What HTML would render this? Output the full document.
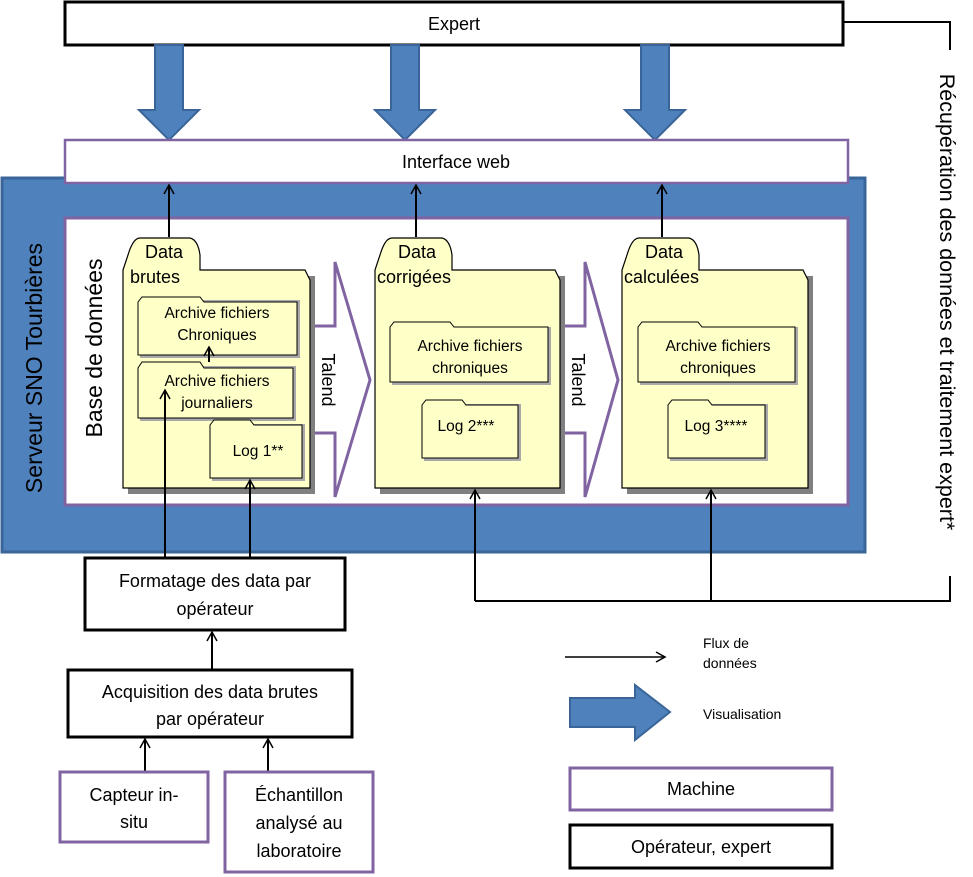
<!DOCTYPE html>
<html><head><meta charset="utf-8"><style>body{margin:0;background:#fff}svg{display:block}text{font-family:"Liberation Sans",sans-serif;fill:#000}</style></head><body>
<svg width="973" height="877" viewBox="0 0 973 877" xmlns="http://www.w3.org/2000/svg">
<defs>
<marker id="a" markerWidth="12" markerHeight="12" refX="10" refY="6" orient="auto" markerUnits="userSpaceOnUse"><path d="M1,1 L10,6 L1,11" fill="none" stroke="#000" stroke-width="1.5"/></marker>
<g id="barrow"><path d="M-14,0 H14 V65 H30 L0,95 L-30,65 H-14 Z" fill="#4f81bd" stroke="#3a6598" stroke-width="2"/></g>
</defs>
<rect x="65" y="2" width="778" height="43" fill="#fff" stroke="#000" stroke-width="3"/>
<text x="454" y="30" font-size="18" text-anchor="middle">Expert</text>
<use href="#barrow" x="169" y="45"/><use href="#barrow" x="405" y="45"/><use href="#barrow" x="655" y="45"/>
<rect x="2" y="178" width="863" height="374" fill="#4f81bd" stroke="#3a6598" stroke-width="3"/>
<rect x="65" y="140" width="783" height="43" fill="#fff" stroke="#8064a2" stroke-width="2.5"/>
<text x="456" y="168" font-size="18" text-anchor="middle">Interface web</text>
<rect x="65" y="218" width="783" height="287" fill="#fff" stroke="#8064a2" stroke-width="3"/>
<text transform="translate(42,368) rotate(-90)" font-size="23" text-anchor="middle">Serveur SNO Tourbières</text>
<text transform="translate(102,348) rotate(-90)" font-size="23" text-anchor="middle">Base de données</text>
<path d="M310,326 H335 V262 L370,380 L335,497 V433 H310 Z" fill="#fff" stroke="#8064a2" stroke-width="3"/>
<path d="M560,326 H585 V262 L618,380 L585,497 V433 H560 Z" fill="#fff" stroke="#8064a2" stroke-width="3"/>
<text transform="translate(322,380) rotate(90)" font-size="18" text-anchor="middle">Talend</text>
<text transform="translate(572,380) rotate(90)" font-size="18" text-anchor="middle">Talend</text>
<g fill="#fff" stroke="#000" stroke-width="1.2">
<g><rect x="128" y="276" width="187" height="218" fill="#808080" stroke="none"/><path d="M123,488 V270 L128,255 Q133,238 140,238 H190 Q198,240 200,255 V270 H305 L310,280 V488 Z" fill="#ffffc8"/></g>
<g><rect x="380" y="276" width="185" height="218" fill="#808080" stroke="none"/><path d="M375,488 V270 L380,255 Q385,238 392,238 H442 Q450,240 452,255 V270 H555 L560,280 V488 Z" fill="#ffffc8"/></g>
<g><rect x="627" y="276" width="186" height="218" fill="#808080" stroke="none"/><path d="M622,488 V270 L627,255 Q632,238 639,238 H689 Q697,240 699,255 V270 H803 L808,280 V488 Z" fill="#ffffc8"/></g>
</g>
<g font-size="18">
<text x="145" y="258">Data</text><text x="130" y="283">brutes</text>
<text x="398" y="258">Data</text><text x="377" y="283">corrigées</text>
<text x="645" y="258">Data</text><text x="624" y="283">calculées</text>
</g>
<g fill="#ffffc8" stroke="#000" stroke-width="1">
<rect x="140" y="300" width="160" height="58" fill="#aaa" stroke="none"/>
<path d="M138,355 V302 L142,297 H200 L204,302 H297 V355 Z"/>
<rect x="140" y="366" width="156" height="55" fill="#aaa" stroke="none"/>
<path d="M138,418 V368 L142,362 H200 L204,368 H293 V418 Z"/>
<rect x="212" y="424" width="93" height="57" fill="#aaa" stroke="none"/>
<path d="M210,478 V425 L214,420 H250 L254,425 H302 V478 Z"/>
<rect x="392" y="327" width="159" height="58" fill="#aaa" stroke="none"/>
<path d="M390,382 V327 L394,322 H450 L454,327 H548 V382 Z"/>
<rect x="424" y="404" width="97" height="57" fill="#aaa" stroke="none"/>
<path d="M422,458 V405 L426,400 H462 L466,405 H518 V458 Z"/>
<rect x="640" y="327" width="158" height="58" fill="#aaa" stroke="none"/>
<path d="M638,382 V327 L642,322 H698 L702,327 H795 V382 Z"/>
<rect x="670" y="404" width="98" height="57" fill="#aaa" stroke="none"/>
<path d="M668,458 V405 L672,400 H708 L712,405 H765 V458 Z"/>
</g>
<g font-size="15.5" text-anchor="middle">
<text x="217" y="318">Archive fichiers</text><text x="217" y="340">Chroniques</text>
<text x="217" y="386">Archive fichiers</text><text x="217" y="408">journaliers</text>
<text x="258" y="456">Log 1**</text>
<text x="470" y="351">Archive fichiers</text><text x="470" y="373">chroniques</text>
<text x="466" y="431">Log 2***</text>
<text x="718" y="351">Archive fichiers</text><text x="718" y="373">chroniques</text>
<text x="716" y="431">Log 3****</text>
</g>
<g stroke="#000" stroke-width="2" fill="none">
<line x1="169" y1="237" x2="169" y2="185" marker-end="url(#a)"/>
<line x1="416" y1="237" x2="416" y2="185" marker-end="url(#a)"/>
<line x1="662" y1="237" x2="662" y2="185" marker-end="url(#a)"/>
<line x1="209" y1="362" x2="209" y2="347" marker-end="url(#a)"/>
<line x1="165" y1="558" x2="165" y2="390" marker-end="url(#a)"/>
<line x1="250" y1="558" x2="250" y2="480" marker-end="url(#a)"/>
<line x1="212" y1="670" x2="212" y2="632" marker-end="url(#a)"/>
<line x1="145" y1="772" x2="145" y2="739" marker-end="url(#a)"/>
<line x1="268" y1="772" x2="268" y2="739" marker-end="url(#a)"/>
<line x1="475" y1="601" x2="475" y2="490" marker-end="url(#a)"/>
<line x1="711" y1="601" x2="711" y2="490" marker-end="url(#a)"/>
<polyline points="475,601 950,601 950,576"/>
<polyline points="843,22 950,22 950,50"/>
<line x1="565" y1="657" x2="665" y2="657" stroke-width="1.5" marker-end="url(#a)"/>
</g>
<text transform="translate(940,302) rotate(90)" font-size="21.5" text-anchor="middle">Récupération des données et traitement expert*</text>
<rect x="85" y="558" width="260" height="72" fill="#fff" stroke="#000" stroke-width="3"/>
<text x="215" y="587" font-size="18" text-anchor="middle">Formatage des data par</text>
<text x="215" y="615" font-size="18" text-anchor="middle">opérateur</text>
<rect x="68" y="670" width="284" height="67" fill="#fff" stroke="#000" stroke-width="3"/>
<text x="210" y="698" font-size="18" text-anchor="middle">Acquisition des data brutes</text>
<text x="210" y="725" font-size="18" text-anchor="middle">par opérateur</text>
<rect x="60" y="772" width="148" height="70" fill="#fff" stroke="#8064a2" stroke-width="3"/>
<text x="134" y="801" font-size="18" text-anchor="middle">Capteur in-</text>
<text x="134" y="828" font-size="18" text-anchor="middle">situ</text>
<rect x="225" y="772" width="148" height="100" fill="#fff" stroke="#8064a2" stroke-width="3"/>
<text x="299" y="801" font-size="18" text-anchor="middle">Échantillon</text>
<text x="299" y="829" font-size="18" text-anchor="middle">analysé au</text>
<text x="299" y="857" font-size="18" text-anchor="middle">laboratoire</text>
<text x="703" y="648" font-size="14">Flux de</text>
<text x="703" y="668" font-size="14">données</text>
<path d="M570,698 H635 V685 L670,712 L635,740 V727 H570 Z" fill="#4f81bd" stroke="#3a6598" stroke-width="2"/>
<text x="703" y="719" font-size="14">Visualisation</text>
<rect x="570" y="768" width="262" height="42" fill="#fff" stroke="#8064a2" stroke-width="3"/>
<text x="701" y="795" font-size="18" text-anchor="middle">Machine</text>
<rect x="570" y="825" width="262" height="43" fill="#fff" stroke="#000" stroke-width="3"/>
<text x="701" y="853" font-size="18" text-anchor="middle">Opérateur, expert</text>
</svg>
</body></html>
